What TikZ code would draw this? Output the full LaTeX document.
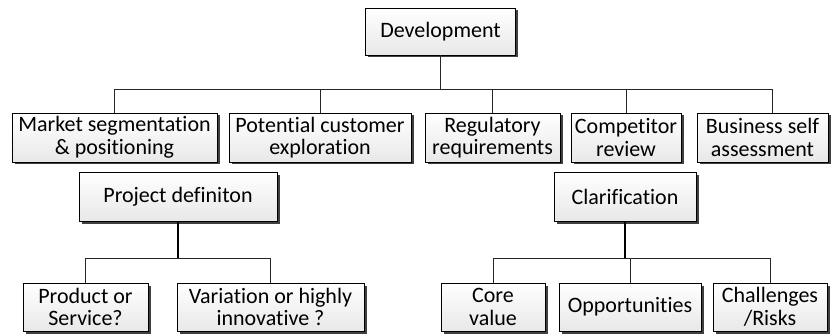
\documentclass[tikz,border=0pt]{standalone}
\usepackage{fontspec}
\setmainfont{Carlito}[Ligatures={NoCommon}]
\usetikzlibrary{shadows}
\begin{document}
\begin{tikzpicture}[x=1pt,y=-1pt,
  box/.style={draw=black, line width=0.7pt, top color=white, bottom color=black!9,
    drop shadow={shadow xshift=2.5pt, shadow yshift=-2.5pt, fill=black!75, opacity=1},
    align=center, inner sep=0pt, font=\fontsize{22}{22.5}\selectfont},
  conn/.style={draw=black!85, line width=0.7pt},
  thick conn/.style={draw=black, line width=1.6pt}]
\useasboundingbox (0,0) rectangle (838,334);
% top
\node[box, minimum width=150pt, minimum height=47pt] (dev) at (440.5,31.5) {Development};
\node[box, minimum width=205pt, minimum height=49pt] (m1) at (114.5,137.5) {Market segmentation\\\& positioning};
\node[box, minimum width=182pt, minimum height=49pt] (m2) at (320,137.5) {Potential customer\\exploration};
\node[box, minimum width=135pt, minimum height=49pt] (m3) at (492.5,137.5) {Regulatory\\requirements};
\node[box, minimum width=110pt, minimum height=49pt] (m4) at (626,137.5) {Competitor\\review};
\node[box, minimum width=131pt, minimum height=49pt] (m5) at (762.5,137.5) {Business self\\assessment};
% middle
\node[box, minimum width=198pt, minimum height=49pt] (pd) at (178,196.5) {Project definiton};
\node[box, minimum width=142pt, minimum height=49pt] (cl) at (625,196.5) {Clarification};
% bottom
\node[box, minimum width=125pt, minimum height=48pt] (p1) at (85.5,307) {Product or\\Service?};
\node[box, minimum width=187pt, minimum height=48pt] (p2) at (270.5,307) {Variation or highly\\innovative ?};
\node[box, minimum width=104pt, minimum height=48pt] (c1) at (493,307) {Core\\value};
\node[box, minimum width=142pt, minimum height=48pt] (c2) at (630,307) {Opportunities};
\node[box, minimum width=114pt, minimum height=48pt] (c3) at (770,307) {Challenges\\/Risks};
% connectors top
\coordinate (busA) at (0,89);
\draw[conn, line width=1pt] (dev.south) -- (dev.south |- busA);
\draw[conn] (m1.north |- busA) -- (772,89);
\draw[conn] (m1.north) -- (m1.north |- busA);
\draw[conn] (m2.north) -- (m2.north |- busA);
\draw[conn] (m3.north) -- (m3.north |- busA);
\draw[conn] (m4.north) -- (m4.north |- busA);
\draw[conn] (m5.north -| 772,0) -- (772,89);
% project definition
\coordinate (busB) at (0,258);
\draw[thick conn] (pd.south) -- (pd.south |- busB);
\draw[conn] (p1.north) -- (p1.north |- busB) -- (p2.north |- busB) -- (p2.north);
% clarification
\draw[thick conn] (cl.south) -- (cl.south |- busB);
\draw[conn] (c1.north) -- (c1.north |- busB) -- (c3.north |- busB) -- (c3.north);
\draw[conn] (c2.north) -- (c2.north |- busB);
\end{tikzpicture}
\end{document}
